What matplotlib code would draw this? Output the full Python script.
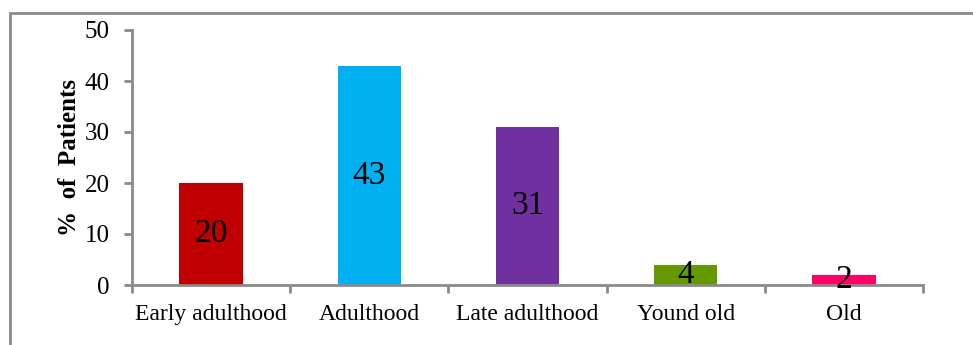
import matplotlib.pyplot as plt
import numpy as np
from matplotlib.patches import Rectangle

plt.rcParams["font.family"] = ["Liberation Serif", "DejaVu Serif"]

categories = ["Early adulthood", "Adulthood", "Late adulthood", "Yound old", "Old"]
percent = [20, 43, 31, 4, 2]
colors = ["#C00000", "#00B0F0", "#7030A0", "#669900", "#FF0066"]

GRAY = "#8a8a8a"

fig = plt.figure(figsize=(9.73, 3.45), dpi=100)
# outer chart frame (right/bottom edges fall outside the image)
fig.patches.append(Rectangle((10 / 973, -0.2), 1.2, 1.2 - 13 / 345,
                             transform=fig.transFigure, fill=False,
                             edgecolor=GRAY, linewidth=2))

ax = fig.add_axes([132 / 973, 1 - 285 / 345, (923 - 132) / 973, (285 - 30) / 345])
x = np.arange(len(categories))
bars = ax.bar(x, percent, width=0.4, color=colors)
ax.bar_label(bars, labels=[str(v) for v in percent], label_type="center",
             fontsize=24, color="black")

ax.set_xlim(-0.5, len(categories) - 0.5)
ax.set_ylim(0, 50)
ax.set_yticks(range(0, 51, 10))
ax.set_xticks(np.arange(-0.5, len(categories)), labels=[])
ax.set_xticks(x, labels=categories, minor=True)
ax.tick_params(axis="x", which="major", length=6, width=2, color=GRAY)
ax.tick_params(axis="x", which="minor", length=0, labelsize=17, pad=14)
ax.tick_params(axis="y", length=6, width=2, color=GRAY, labelsize=18, pad=10)

for side in ("top", "right"):
    ax.spines[side].set_visible(False)
for side in ("left", "bottom"):
    ax.spines[side].set_color(GRAY)
    ax.spines[side].set_linewidth(2)

ax.set_ylabel("%  of  Patients", fontsize=18, fontweight="bold", labelpad=3)

fig.savefig("out.png", dpi=100)
